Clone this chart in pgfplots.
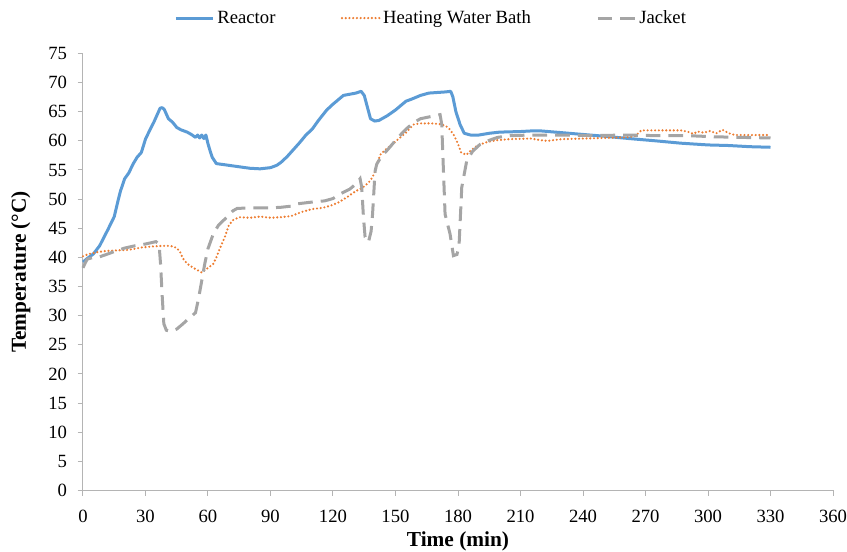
\documentclass[border=0pt]{standalone}
\usepackage{pgfplots}
\pgfplotsset{compat=1.18}
\usepackage{fontspec}
\setmainfont{Liberation Serif}
\usetikzlibrary{calc}
\definecolor{reactor}{HTML}{5B9BD5}
\definecolor{bath}{HTML}{ED7D31}
\definecolor{jacket}{HTML}{A5A5A5}
\definecolor{axgray}{HTML}{B4B4B4}

\pgfplotstableread{
x y
0 39.2
2 39.8
5 40.6
8 42.0
10 43.4
12 44.8
15 47.0
17 50.0
18 51.4
20 53.5
22 54.5
24 56.0
26 57.2
28 58.0
30 60.3
32 61.8
34 63.2
36 64.8
37 65.6
38 65.7
39 65.4
40 64.6
41 63.8
43 63.2
45 62.3
47 61.9
50 61.5
52 61.1
54 60.6
55 61.0
56 60.5
57 61.0
58 60.4
59 61.0
60 59.5
61 58.3
62 57.2
64 56.1
70 55.8
80 55.3
85 55.2
90 55.4
93 55.8
95 56.3
98 57.3
101 58.5
104 59.7
107 61.0
110 62.0
113 63.5
117 65.3
120 66.3
123 67.2
125 67.8
128 68.0
131 68.2
133.5 68.5
135 67.8
136.5 65.8
138 63.8
140 63.4
142 63.5
146 64.3
150 65.3
153 66.2
155 66.8
158 67.2
162 67.8
166 68.2
170 68.3
174 68.4
176.5 68.5
177.5 67.6
179 65.0
181 62.8
183 61.3
186 61.0
190 61.0
195 61.3
200 61.5
210 61.6
215 61.7
220 61.7
230 61.4
240 61.1
250 60.8
262 60.4
275 60.0
287 59.6
300 59.3
310 59.2
320 59.0
330 58.9
}\reactortab

\pgfplotstableread{
x y
0 40.2
3 40.6
7 40.9
11 41.1
16 41.2
22 41.3
28 41.7
34 41.9
40 42.0
43 41.9
45 41.6
46.5 41.0
48 39.8
50 38.9
53 38.2
57 37.4
60 38.2
62.6 38.9
64 40.0
66 41.8
68 43.4
70 45.5
72 46.4
75 46.9
80 46.8
85 47.0
90 46.8
95 46.9
100 47.1
105 47.8
110 48.3
115 48.5
119 48.9
123 49.5
127 50.4
131 51.4
134 51.9
136 52.5
138 53.2
140 54.5
141.5 56.5
143 57.8
147 59.0
151 60.2
155 61.4
158.6 62.8
162 63.0
167 63.0
171 62.9
174 62.6
176 62.0
178 61.0
180 59.5
181.5 58.0
184 57.6
186 58.3
189 59.1
193 59.7
198 60.1
205 60.3
215 60.4
220 60.1
223 60.0
230 60.3
240 60.4
250 60.5
260 60.6
265 60.8
268 61.8
280 61.8
287 61.8
290 61.6
293 61.2
295 61.6
298 61.4
301 61.7
304 61.3
307 61.9
310 61.3
313 61.0
320 61.0
330 61.0
}\bathtab

\pgfplotstableread{
x y
0 38.2
1 39.0
2 39.7
5 40.0
8 40.1
12 40.6
15 41.0
20 41.6
25 42.0
30 42.3
35 42.7
36.5 42.3
37.2 39.0
38 33.5
38.8 28.6
40 27.5
42 27.3
45 27.7
48 28.6
51 29.6
54 30.5
55.5 33.0
57 36.0
58.5 39.0
60 41.5
62.5 44.0
65 45.5
69 46.9
72 48.0
74 48.4
80 48.5
90 48.5
95 48.6
100 48.8
103 49.2
110 49.5
116 49.7
120 50.1
124 51.0
128 51.7
131 52.6
133 53.5
133.8 52.0
134.6 47.0
135.4 43.5
137 42.6
138.3 44.5
139 47.5
140.2 54.8
141 56.0
143 57.2
147 58.8
151 60.5
155 62.0
158.6 63.1
162 63.8
166 64.1
171.4 64.5
172.2 62.8
173 55.0
173.8 47.4
176.2 44.0
177.8 40.3
179.5 40.5
180.5 42.0
181.8 52.0
184.2 56.6
187 58.2
190.6 59.4
195 60.1
199 60.6
205 60.9
215 61.0
230 61.0
245 60.9
260 61.0
275 60.9
290 60.9
303 60.7
315 60.6
330 60.5
}\jackettab

\begin{document}
\begin{tikzpicture}
\begin{axis}[
  scale only axis,
  width=562.5pt, height=327.75pt,
  xmin=0, xmax=360, ymin=0, ymax=75,
  xtick={0,30,...,360}, ytick={0,5,...,75},
  axis x line*=bottom, axis y line*=left,
  axis line style={axgray, line width=0.75pt},
  tick style={axgray, line width=0.75pt},
  tick align=outside,
  major tick length=4pt,
  /pgf/number format/assume math mode=true,
  ticklabel style={font=\fontsize{14}{16}\selectfont},
  xticklabel style={yshift=-7pt},
  yticklabel style={xshift=-4.5pt},
  xlabel={\textbf{Time (min)}},
  ylabel={\textbf{Temperature (°C)}},
  label style={font=\fontsize{16}{18}\selectfont},
  ylabel style={yshift=6.5pt},
  legend columns=3,
  legend style={draw=none, at={(rel axis cs:0.4647,1.081)}, anchor=center,
    font=\fontsize{14}{16}\selectfont,
    /tikz/every even column/.append style={column sep=47pt}},
  legend image code/.code={\draw[#1] (0pt,0pt) -- (28pt,0pt);},
  clip=false,
]
\addplot[reactor, line width=2.25pt, line join=round] table[x=x,y=y] {\reactortab};
\addlegendentry{Reactor}
\addplot[bath, line width=1.8pt, line cap=round, dash pattern=on 0pt off 2.8pt] table[x=x,y=y] {\bathtab};
\addlegendentry{Heating Water Bath}
\addplot[jacket, line width=2.25pt, dash pattern=on 11pt off 6pt] table[x=x,y=y] {\jackettab};
\addlegendentry{Jacket}
\coordinate (bl) at (rel axis cs:0,0);
\coordinate (tr) at (rel axis cs:1,1);
\end{axis}
\pgfresetboundingbox
\path[use as bounding box] ($(bl)+(-62.25pt,-46pt)$) rectangle ($(tr)+(10.5pt,40.1pt)$);
\end{tikzpicture}
\end{document}
